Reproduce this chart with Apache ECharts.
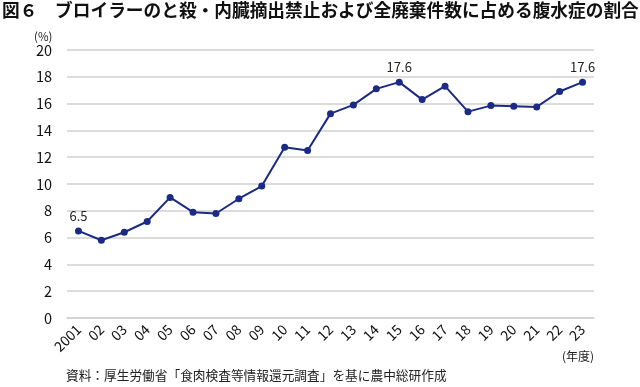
<!DOCTYPE html>
<html><head><meta charset="utf-8">
<script src="https://cdn.jsdelivr.net/npm/echarts@6/dist/echarts.min.js"></script>
<style>html,body{margin:0;padding:0;background:#fff}#c{width:640px;height:387px}</style>
</head><body><div id="c"></div>
<script>
const categories = ['2001','02','03','04','05','06','07','08','09','10','11','12','13','14','15','16','17','18','19','20','21','22','23'];
const values = [6.5,5.8,6.4,7.2,9.0,7.9,7.8,8.9,9.85,12.75,12.5,15.25,15.9,17.1,17.6,16.3,17.3,15.4,15.85,15.8,15.75,16.9,17.6];
const labeledIndices = [0,14,22];
const yTicks = {min:0,max:20,interval:2};
const titleText = '図６　ブロイラーのと殺・内臓摘出禁止および全廃棄件数に占める腹水症の割合';
const sourceText = '資料：厚生労働省「食肉検査等情報還元調査」を基に農中総研作成';
const FONT = '"Noto Sans CJK JP", "Noto Sans", sans-serif';
const chart = echarts.init(document.getElementById('c'));
chart.setOption({
  animation:false,
  textStyle:{fontFamily:FONT},
  graphic:[
    {type:'text',left:2,top:1,style:{text:titleText,font:'bold 17.7px '+FONT,fill:'#111'}},
    {type:'text',left:34,top:31,style:{text:'(%)',font:'11.5px '+FONT,fill:'#222'}},
    {type:'text',left:562,top:350,style:{text:'(年度)',font:'12px '+FONT,fill:'#222'}},
    {type:'text',left:66,top:369,style:{text:sourceText,font:'12.7px '+FONT,fill:'#222'}}
  ],
  grid:{left:67,right:46,top:50,bottom:69},
  xAxis:{type:'category',data:categories,boundaryGap:true,
    axisLine:{show:true,lineStyle:{color:'#d0d0d0',width:1.5}},
    axisTick:{show:false},
    axisLabel:{rotate:45,fontSize:14,color:'#111',margin:9,interval:0,fontFamily:FONT}},
  yAxis:{type:'value',min:yTicks.min,max:yTicks.max,interval:yTicks.interval,
    axisLine:{show:false},axisTick:{show:false},
    axisLabel:{fontSize:14.5,color:'#111',margin:15,fontFamily:FONT},
    splitLine:{lineStyle:{color:'#d0d0d0',width:1.5}}},
  series:[{type:'line',data:values.map((v,i)=>({value:v,label:{show:labeledIndices.includes(i)}})),
    symbol:'circle',symbolSize:7,
    lineStyle:{color:'#1a2a85',width:2},
    itemStyle:{color:'#1a2a85'},
    label:{position:'top',fontSize:13,color:'#222',distance:5,fontFamily:FONT}}]
});
</script></body></html>
